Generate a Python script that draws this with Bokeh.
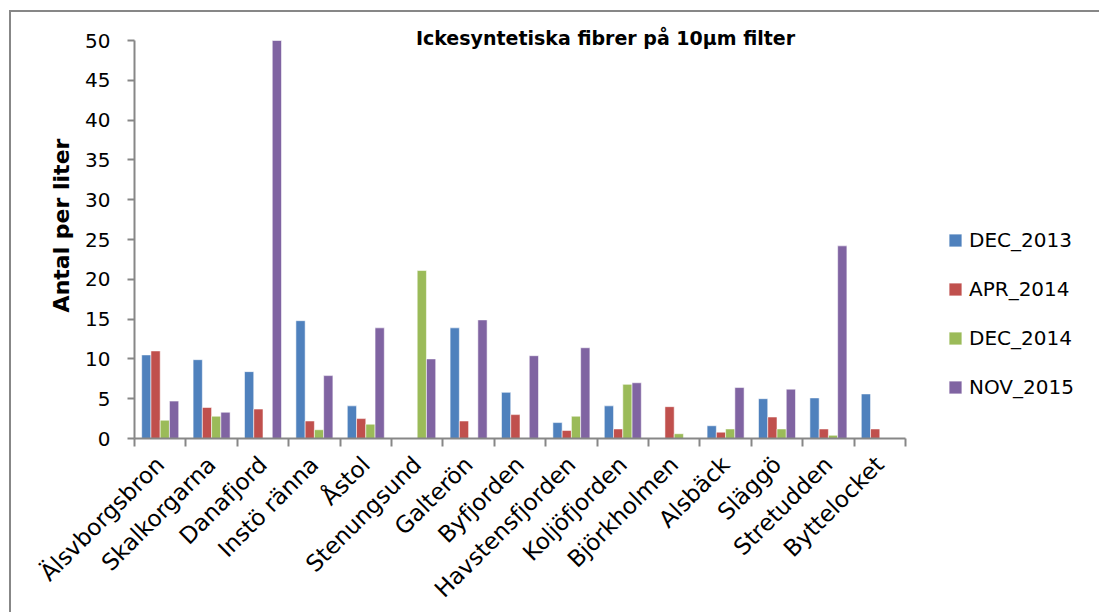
import math
from bokeh.plotting import figure
from bokeh.models import (ColumnDataSource, Range1d, FixedTicker, Legend, LegendItem, Label)
from bokeh.embed import file_html
from bokeh.resources import INLINE

# Sampling stations along the coast
stations = ["Älsvborgsbron", "Skalkorgarna", "Danafjord", "Instö ränna", "Åstol",
            "Stenungsund", "Galterön", "Byfjorden", "Havstensfjorden", "Koljöfjorden",
            "Björkholmen", "Alsbäck", "Släggö", "Stretudden", "Byttelocket"]

# Fibres per litre for each campaign (None = no sample)
dec_2013 = [10.5, 9.9, 8.4, 14.8, 4.1, None, 13.9, 5.8, 2.0, 4.1, None, 1.6, 5.0, 5.1, 5.6]
apr_2014 = [11.0, 3.9, 3.7, 2.2, 2.5, None, 2.2, 3.0, 1.0, 1.2, 4.0, 0.8, 2.7, 1.2, 1.2]
dec_2014 = [2.3, 2.8, None, 1.1, 1.8, 21.1, None, None, 2.8, 6.8, 0.6, 1.2, 1.2, 0.4, None]
nov_2015 = [4.7, 3.3, 50.0, 7.9, 13.9, 10.0, 14.9, 10.4, 11.4, 7.0, None, 6.4, 6.2, 24.2, None]

series_names = ["DEC_2013", "APR_2014", "DEC_2014", "NOV_2015"]
series_values = [dec_2013, apr_2014, dec_2014, nov_2015]
colors = ["#4F81BD", "#C0504D", "#9BBB59", "#8064A2"]
y_ticks = [0, 5, 10, 15, 20, 25, 30, 35, 40, 45, 50]
y_max = 50

FONT = "DejaVu Sans"
AXIS_GRAY = "#878787"

# Plot-area geometry (canvas pixels): the bars occupy x 134..905, y 40..438,
# while the frame itself runs on towards the canvas edge so legend and title fit inside.
PA_LEFT, PA_RIGHT, PA_TOP, PA_BOTTOM = 134, 905, 40, 438
CANVAS_X0, CANVAS_Y0, CANVAS_W, CANVAS_H = 11, 12, 1090, 602
FRAME_RIGHT = 1080
n = len(stations)
x_end = n * (FRAME_RIGHT - PA_LEFT) / (PA_RIGHT - PA_LEFT)
y_end = y_max * (PA_BOTTOM - CANVAS_Y0) / (PA_BOTTOM - PA_TOP)

p = figure(width=CANVAS_W, height=CANVAS_H, output_backend="svg", toolbar_location=None,
           x_range=Range1d(0, x_end), y_range=Range1d(0, y_end),
           min_border_left=PA_LEFT - CANVAS_X0,
           min_border_right=CANVAS_X0 + CANVAS_W - FRAME_RIGHT, min_border_top=0,
           min_border_bottom=CANVAS_Y0 + CANVAS_H - PA_BOTTOM)
# Chart-area frame: thin gray border on the top and left edges
p.styles = {"margin-left": "9px", "margin-top": "10px",
            "border-left": f"2px solid {AXIS_GRAY}", "border-top": f"2px solid {AXIS_GRAY}"}
p.outline_line_color = None
p.xgrid.visible = False
p.ygrid.visible = False
p.background_fill_color = "white"
p.border_fill_color = "white"

# Grouped bars: four campaigns side by side inside each station slot
bar_w = 0.18
offsets = [-0.27, -0.09, 0.09, 0.27]
renderers = []
for name, vals, col, off in zip(series_names, series_values, colors, offsets):
    src = ColumnDataSource(dict(
        x=[i + 0.5 + off for i in range(n)],
        top=[float("nan") if v is None else v for v in vals],
    ))
    r = p.vbar(x="x", top="top", bottom=0, width=bar_w, source=src,
               fill_color=col, line_color="white", line_alpha=0.55, line_width=1)
    renderers.append(r)

# Category axis: labels at slot centres, tick marks on slot boundaries
xa = p.xaxis[0]
xa.bounds = (0, n)
xa.ticker = FixedTicker(ticks=[i + 0.5 for i in range(n)],
                        minor_ticks=list(range(n + 1)))
xa.major_label_overrides = {i + 0.5: s for i, s in enumerate(stations)}
xa.major_label_orientation = math.pi / 4
xa.major_tick_out = 0
xa.major_tick_in = 0
xa.minor_tick_out = 8
xa.minor_tick_in = 0
xa.minor_tick_line_color = AXIS_GRAY
xa.minor_tick_line_width = 2
xa.axis_line_color = AXIS_GRAY
xa.axis_line_width = 2
xa.major_label_text_font = FONT
xa.major_label_text_font_size = "23px"
xa.major_label_text_color = "black"
xa.major_label_standoff = 14

ya = p.yaxis[0]
ya.bounds = (0, y_max)
ya.ticker = FixedTicker(ticks=y_ticks)
ya.minor_tick_out = 0
ya.minor_tick_in = 0
ya.major_tick_out = 7
ya.major_tick_in = 0
ya.major_tick_line_color = AXIS_GRAY
ya.major_tick_line_width = 2
ya.axis_line_color = AXIS_GRAY
ya.axis_line_width = 2
ya.major_label_text_font = FONT
ya.major_label_text_font_size = "20px"
ya.major_label_text_color = "black"
ya.major_label_standoff = 17
ya.axis_label = "Antal per liter"
ya.axis_label_text_font = FONT
ya.axis_label_text_font_size = "22px"
ya.axis_label_text_font_style = "bold"
ya.axis_label_text_color = "black"
ya.axis_label_standoff = 8

# Chart title over the top of the plot area
p.add_layout(Label(x=471, y=PA_BOTTOM - 37, x_units="screen", y_units="screen",
                   text="Ickesyntetiska fibrer på 10µm filter",
                   text_font=FONT, text_font_size="19px", text_font_style="bold",
                   text_align="center", text_baseline="alphabetic", text_color="black"))

# Legend to the right of the bars
legend = Legend(items=[LegendItem(label=s, renderers=[r]) for s, r in zip(series_names, renderers)],
                location=(PA_RIGHT - PA_LEFT + 42, 39), orientation="vertical",
                glyph_width=16, glyph_height=16, label_standoff=6,
                label_height=20, spacing=25, padding=0, margin=0,
                border_line_alpha=0, background_fill_alpha=0,
                label_text_font=FONT, label_text_font_size="20px", label_text_color="black")
p.add_layout(legend, "center")

open("out.html", "w").write(file_html(p, INLINE))
